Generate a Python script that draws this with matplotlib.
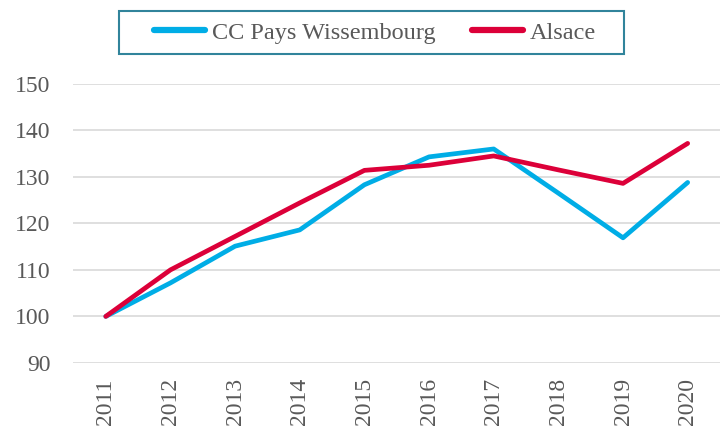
import matplotlib
matplotlib.use("Agg")
import matplotlib.pyplot as plt
from matplotlib.patches import Rectangle

years = [2011, 2012, 2013, 2014, 2015, 2016, 2017, 2018, 2019, 2020]
wissembourg = [100, 107.2, 115.1, 118.6, 128.3, 134.3, 136.0, 126.5, 116.9, 128.8]
alsace = [100, 110.0, 117.2, 124.4, 131.4, 132.5, 134.5, 131.5, 128.6, 137.2]

labels = ["CC Pays Wissembourg", "Alsace"]
colors = ["#00ADE6", "#DC0039"]
grey = "#595959"

plt.rcParams["font.family"] = ["Liberation Serif", "DejaVu Serif"]

W, H = 720, 430
fig = plt.figure(figsize=(7.2, 4.3), dpi=100)
ax = fig.add_axes([0.102, 0.156, 0.898, 0.649])

ax.plot(years, wissembourg, color=colors[0], lw=3.4, solid_capstyle="round",
        label=labels[0], zorder=3)
ax.plot(years, alsace, color=colors[1], lw=3.4, solid_capstyle="round",
        label=labels[1], zorder=4)

ax.set_xlim(2010.5, 2020.5)
ax.set_ylim(90, 150)
ax.set_yticks(range(90, 151, 10))
ax.set_xticks(years)
ax.set_xticklabels([str(y) for y in years], rotation=90)
ax.grid(axis="y", color="#D9D9D9", lw=1.2)
ax.set_axisbelow(True)
for s in ax.spines.values():
    s.set_visible(False)
ax.tick_params(length=0, labelsize=17, labelcolor=grey)
ax.tick_params(axis="x", pad=11)
ax.tick_params(axis="y", pad=16.5)

# legend box drawn by hand (wide horizontal padding)
fig.patches.append(Rectangle((119 / W, 1 - 54 / H), 505 / W, 43 / H,
                             transform=fig.transFigure, fill=False,
                             edgecolor="#31849B", lw=1.5))
leg = fig.legend(loc="center", bbox_to_anchor=(375 / W, 1 - 32.5 / H),
                 ncol=2, fontsize=17.5, frameon=False,
                 handlelength=2.1, handletextpad=0.3, columnspacing=1.5)
for t in leg.get_texts():
    t.set_color(grey)
for h in leg.get_lines():
    h.set_linewidth(4.5)
    h.set_solid_capstyle("round")

fig.savefig("out.png", dpi=100)
